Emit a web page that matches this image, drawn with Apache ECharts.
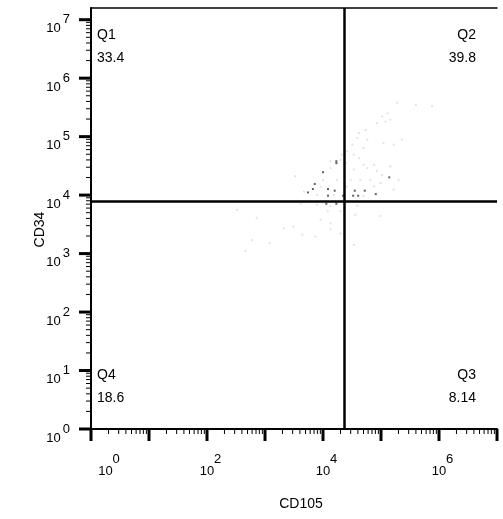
<!DOCTYPE html>
<html>
<head>
<meta charset="utf-8">
<script src="https://cdn.jsdelivr.net/npm/echarts@6/dist/echarts.min.js"></script>
<style>
  html, body { margin: 0; padding: 0; background: #fff; }
  #chart { width: 503px; height: 519px; }
</style>
</head>
<body>
<div id="chart"></div>
<script>
// Dim events: [CD105, CD34]
const dimEvents = [
  [1.9e5, 3.8e5], [4.0e5, 3.5e5], [7.6e5, 3.3e5], [1.3e5, 2.5e5], [1.05e5, 2.2e5],
  [1.45e5, 1.95e5], [1.2e5, 1.8e5], [8.5e4, 1.7e5], [5.4e4, 1.3e5], [4.2e4, 1.15e5],
  [3.9e4, 9.5e4], [5.8e4, 8.9e4], [2.3e5, 8.9e4], [1.1e5, 7.8e4], [3.2e4, 7.3e4],
  [5.0e4, 6.4e4], [1.65e5, 7.3e4], [2.6e4, 5.6e4], [2.1e4, 4.9e4], [3.4e4, 4.9e4],
  [4.2e4, 4.3e4], [2.0e4, 4.0e4], [1.35e4, 3.8e4], [2.5e4, 3.5e4], [5.0e4, 3.3e4],
  [7.6e4, 3.3e4], [1.45e5, 3.1e4], [5.8e4, 2.9e4], [1.35e4, 2.9e4], [3.4e4, 2.75e4],
  [8.5e4, 2.6e4], [1.05e5, 2.2e4], [2.0e5, 1.8e4], [3.3e3, 2.1e4], [1.0e4, 1.8e4],
  [1.75e4, 1.8e4], [3.0e4, 1.8e4], [4.4e4, 1.8e4], [6.6e4, 1.8e4], [9.8e4, 1.6e4],
  [9.1e3, 1.4e4], [2.6e4, 1.4e4], [7.6e4, 1.4e4], [1.65e5, 1.25e4], [4.7e3, 1.15e4],
  [7.9e3, 1.0e4], [1.55e4, 1.0e4], [5.0e4, 9.6e3], [4.1e3, 7.2e3], [7.9e3, 6.9e3],
  [1.35e4, 6.5e3], [3.9e4, 6.5e3], [1.2e4, 5.3e3], [2.0e4, 5.3e3], [3.6e4, 4.6e3],
  [9.8e4, 4.4e3], [9.1e3, 3.8e3], [1.35e4, 3.3e3], [2.3e4, 3.3e3], [7.2e2, 4.1e3],
  [3.3e2, 5.6e3], [3.1e3, 2.9e3], [2.1e3, 2.7e3], [1.35e4, 2.6e3], [7.4e3, 1.95e3],
  [4.4e3, 2.1e3], [1.2e3, 1.5e3], [6.0e2, 1.7e3], [4.6e2, 1.1e3], [3.4e4, 1.4e3],
  [2.0e4, 2.2e3]
];

// Bright events: [CD105, CD34]
const brightEvents = [
  [17000, 38000], [17000, 35200], [10000, 24500], [7200, 15500], [6700, 12700],
  [5500, 11100], [12200, 12700], [15900, 11900], [12200, 9770], [22200, 9770],
  [35300, 11900], [33100, 9770], [40400, 9770], [52500, 11900], [81300, 10400],
  [138700, 20100], [11400, 7120], [17000, 7120]
];

// Quadrant gate position
const gateCD105 = 23400;
const gateCD34 = 7800;

// Quadrant statistics (%)
const quadrantNames = ['Q1', 'Q2', 'Q3', 'Q4'];
const quadrantValues = ['33.4', '39.8', '8.14', '18.6'];

// Decade exponents that carry a label
const xLabelExponents = [0, 2, 4, 6];
const yLabelExponents = [0, 1, 2, 3, 4, 5, 6, 7];

const X_MIN = 1, X_MAX = 1e7;
const Y_MIN = 1, Y_MAX = Math.pow(10, 7.2);
const FONT = '"Liberation Sans", Arial, sans-serif';

// Log-axis tick marks: decades are major, 2..9 are minor
const tickMarks = [];
for (let k = 0; k <= 7; k++) {
  tickMarks.push([Math.pow(10, k), Y_MIN, 1, 0]);
  tickMarks.push([X_MIN, Math.pow(10, k), 1, 1]);
  if (k < 7) {
    for (let m = 2; m <= 9; m++) {
      tickMarks.push([m * Math.pow(10, k), Y_MIN, 0, 0]);
      tickMarks.push([X_MIN, m * Math.pow(10, k), 0, 1]);
    }
  }
}

function decadeOf(v) {
  const e = Math.round(Math.log10(v));
  return Math.abs(Math.log10(v) - e) < 1e-6 ? e : null;
}

function cornerText(text, pos) {
  return Object.assign({
    type: 'text',
    style: { text: text, font: '14px ' + FONT, fill: '#000' }
  }, pos);
}

const chart = echarts.init(document.getElementById('chart'), null, { renderer: 'canvas' });

chart.setOption({
  animation: false,
  backgroundColor: '#fff',
  grid: { left: 91, right: 6, top: 8, bottom: 90 },
  xAxis: [{
    type: 'log',
    logBase: 10,
    min: X_MIN,
    max: X_MAX,
    splitNumber: 7,
    name: 'CD105',
    nameLocation: 'middle',
    nameGap: 68,
    nameMoveOverlap: false,
    nameTextStyle: { fontFamily: FONT, fontSize: 14, color: '#000', padding: [0, 0, 0, 14] },
    axisLine: { show: true, lineStyle: { color: '#000', width: 2 } },
    axisTick: { show: false },
    splitLine: { show: false },
    minorTick: { show: false },
    axisLabel: {
      margin: 12,
      formatter: function (v) {
        const e = decadeOf(v);
        if (e === null || xLabelExponents.indexOf(e) < 0) return '';
        return (e === 0 ? '{b0|10}' : '{b|10}') + '{s|' + e + '}';
      },
      rich: {
        b: { fontFamily: FONT, fontSize: 13, color: '#000', padding: [24, 0, 0, 7], verticalAlign: 'middle' },
        b0: { fontFamily: FONT, fontSize: 13, color: '#000', padding: [24, 0, 0, 36], verticalAlign: 'middle' },
        s: { fontFamily: FONT, fontSize: 13, color: '#000', verticalAlign: 'middle' }
      }
    }
  }, {
    type: 'log',
    logBase: 10,
    min: X_MIN,
    max: X_MAX,
    position: 'top',
    axisLine: { show: true, lineStyle: { color: '#000', width: 1.5 } },
    axisTick: { show: false },
    axisLabel: { show: false },
    splitLine: { show: false }
  }],
  yAxis: {
    type: 'log',
    logBase: 10,
    min: Y_MIN,
    max: Y_MAX,
    splitNumber: 7,
    name: 'CD34',
    nameLocation: 'middle',
    nameGap: 44,
    nameMoveOverlap: false,
    nameTextStyle: { fontFamily: FONT, fontSize: 14, color: '#000', padding: [0, 22, 0, 0] },
    axisLine: { show: true, lineStyle: { color: '#000', width: 2 } },
    axisTick: { show: false },
    splitLine: { show: false },
    minorTick: { show: false },
    axisLabel: {
      margin: 21,
      formatter: function (v) {
        const e = decadeOf(v);
        if (e === null || yLabelExponents.indexOf(e) < 0) return '';
        return '{b|10}{s|' + e + '}';
      },
      rich: {
        b: { fontFamily: FONT, fontSize: 13, color: '#000', padding: [18, 0, 0, 0], verticalAlign: 'middle' },
        s: { fontFamily: FONT, fontSize: 13, color: '#000', padding: [0, 0, 0, 2], verticalAlign: 'middle' }
      }
    }
  },
  graphic: [
    cornerText(quadrantNames[0], { left: 97, top: 28 }),
    cornerText(quadrantValues[0], { left: 97, top: 51 }),
    cornerText(quadrantNames[1], { right: 27, top: 28 }),
    cornerText(quadrantValues[1], { right: 27, top: 51 }),
    cornerText(quadrantNames[2], { right: 27, top: 368 }),
    cornerText(quadrantValues[2], { right: 27, top: 391 }),
    cornerText(quadrantNames[3], { left: 97, top: 368 }),
    cornerText(quadrantValues[3], { left: 97, top: 391 })
  ],
  series: [
    {
      type: 'scatter',
      data: dimEvents,
      symbol: 'rect',
      symbolSize: 2,
      itemStyle: { color: '#dcdcdc' },
      silent: true,
      z: 2
    },
    {
      type: 'scatter',
      data: brightEvents,
      symbol: 'rect',
      symbolSize: 2,
      itemStyle: { color: '#3a3a3a' },
      silent: true,
      z: 3,
      markLine: {
        silent: true,
        symbol: 'none',
        label: { show: false },
        lineStyle: { color: '#000', width: 2.5, type: 'solid' },
        data: [{ xAxis: gateCD105 }, { yAxis: gateCD34 }]
      }
    },
    {
      type: 'custom',
      data: tickMarks,
      silent: true,
      z: 5,
      renderItem: function (params, api) {
        const p = api.coord([api.value(0), api.value(1)]);
        const major = api.value(2) === 1;
        const len = major ? 12 : 5;
        const w = major ? 3 : 1;
        if (api.value(3) === 0) {
          return { type: 'line', shape: { x1: p[0], y1: p[1], x2: p[0], y2: p[1] + len }, style: { stroke: '#000', lineWidth: w } };
        }
        return { type: 'line', shape: { x1: p[0] - len, y1: p[1], x2: p[0], y2: p[1] }, style: { stroke: '#000', lineWidth: w } };
      }
    }
  ]
});
</script>
</body>
</html>
